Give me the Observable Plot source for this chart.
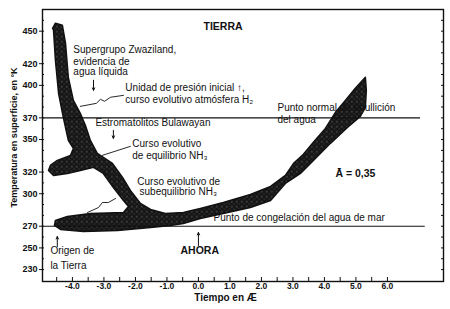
<!DOCTYPE html>
<html><head><meta charset="utf-8">
<script src="https://cdn.jsdelivr.net/npm/d3@7"></script>
<script src="https://cdn.jsdelivr.net/npm/@observablehq/plot@0.6"></script>
<style>body{margin:0;background:#fff} svg{display:block}</style>
</head><body><div id="chart"></div>
<script>
// ---- data ----
const yTickValues = [230, 250, 270, 300, 320, 350, 370, 400, 420, 450];
const xTickValues = [-4, -3, -2, -1, 0, 1, 2, 3, 4, 5, 6];
const xHalfTicks = [-4.5, -4, -3.5, -3, -2.5, -2, -1.5, -1, -0.5, 0, 0.5, 1, 1.5, 2, 2.5, 3, 3.5, 4, 4.5, 5, 5.5, 6];
const xDomain = [-4.95, 7.78];
const yDomain = [219, 470];

// outline of the evolutionary envelope (time in Æ, temperature in K)
const bandTime = [-4.63,-4.54,-4.32,-4.22,-4.13,-3.97,-3.75,-3.59,-3.43,-3.21,-2.73,-2.41,-2.16,-1.84,-1.52,-1.05,-0.48,0.06,0.79,1.65,2.29,2.76,3.02,3.30,3.65,4.03,4.35,4.67,4.98,5.30,5.33,5.30,5.14,4.73,4.19,3.65,3.24,2.76,2.29,1.65,0.79,0.06,-0.48,-0.89,-1.52,-2.57,-3.65,-4.38,-4.57,-4.54,-4.16,-3.43,-2.38,-2.22,-2.38,-2.70,-3.02,-3.33,-3.75,-4.16,-4.60,-4.76,-4.70,-4.48,-4.06,-3.97,-4.13,-4.29,-4.44,-4.54,-4.60];
const bandTemp = [452.7,457.4,455.5,438.9,407.4,386.2,374.2,363.1,349.2,337.2,328.0,315.0,303.0,291.0,285.5,281.8,282.7,286.4,291.9,299.3,306.7,316.9,328.0,335.4,347.4,360.3,375.1,386.2,397.3,407.4,395.4,379.7,371.4,361.2,346.5,330.7,318.7,309.5,293.8,287.3,281.8,277.1,272.5,270.7,268.8,266.0,265.1,267.0,270.7,275.3,279.0,281.8,282.7,288.2,293.8,305.8,318.7,324.3,321.5,318.7,316.9,321.5,326.1,330.7,335.4,341.8,349.2,370.5,392.7,423.2,450.9];

// reference temperatures (boiling / freezing of water)
const refTemp = [370, 270];
const refEnd = [7.05, 7.2];

// annotations
const noteText = ["Supergrupo Zwaziland,", "evidencia de", "agua líquida",
  "Unidad de presión inicial ↑,", "curso evolutivo atmósfera H₂",
  "Punto normal de ebullición", "del agua", "Estromatolitos Bulawayan",
  "Curso evolutivo", "de equilibrio NH₃", "Curso evolutivo de", "subequilibrio NH₃",
  "Punto de congelación del agua de mar", "Origen de", "la Tierra"];
const noteTime = [-3.97, -3.97, -3.97, -2.32, -2.32, 2.51, 2.51, -3.27, -2.10, -2.10, -1.94, -1.87, 0.48, -4.70, -4.70];
const noteTemp = [432.4, 422.2, 412.1, 397.3, 387.1, 379.7, 368.6, 365.9, 346.5, 335.4, 311.3, 302.1, 278.1, 247.6, 233.7];

const headText = ["TIERRA", "Ā = 0,35", "AHORA"];
const headTime = [0.16, 4.35, -0.57];
const headTemp = [454.6, 318.7, 247.6];

// arrows
const arrowTime = [-3.33, -2.70, -4.48, 0.0];
const arrowFrom = [404.7, 358.5, 251.3, 252.2];
const arrowTo = [395.4, 351.1, 260.5, 264.2];

// leader lines
const leaderId = ["a","a","a","a","a","a","b","b","c","c","c","c","c"];
const leaderTime = [-2.38,-2.79,-2.98,-3.11,-3.24,-3.75, -2.16,-3.05, -2.63,-2.86,-3.05,-3.17,-3.52];
const leaderTemp = [390.8,389.0,385.3,387.1,383.4,380.6, 343.7,335.4, 295.6,291.9,291.9,287.3,282.7];

const xLabel = "Tiempo en Æ";
const xLabelAt = [0.86];
const yLabel = "Temperatura en superficie, en °K";

// ---- tables ----
const band = bandTime.map((t, i) => ({t, k: bandTemp[i]}));
const refs = refTemp.map((k, i) => ({k, start: xDomain[0], end: refEnd[i]}));
const notes = noteText.map((s, i) => ({s, t: noteTime[i], k: noteTemp[i]}));
const heads = headText.map((s, i) => ({s, t: headTime[i], k: headTemp[i]}));
const arrows = arrowTime.map((t, i) => ({t, k1: arrowFrom[i], k2: arrowTo[i]}));
const leaders = leaderId.map((id, i) => ({id, t: leaderTime[i], k: leaderTemp[i]}));
const minorY = d3.range(230, 461, 10);
const blank = () => "";

const font = "'Liberation Sans', Arial, sans-serif";
const ink = "#111";

const svg = Plot.plot({
  width: 450, height: 309,
  marginTop: 9, marginBottom: 28, marginLeft: 42, marginRight: 7,
  x: {domain: xDomain},
  y: {domain: yDomain},
  style: {fontFamily: font, fontSize: "10px", color: ink, background: "#fff"},
  marks: [
    Plot.line(band, {x: "t", y: "k", curve: "linear-closed", fill: "url(#stip)", stroke: ink, strokeWidth: 1.5}),
    Plot.ruleY(refs, {y: "k", x1: "start", x2: "end", stroke: ink, strokeWidth: 1.1}),
    Plot.line(leaders, {x: "t", y: "k", z: "id", stroke: ink, strokeWidth: 0.9}),
    Plot.arrow(arrows, {x: "t", y1: "k1", y2: "k2", stroke: ink, strokeWidth: 1, headLength: 4, headAngle: 50}),
    Plot.text(notes, {x: "t", y: "k", text: "s", textAnchor: "start", fontSize: 10, fill: ink}),
    Plot.text(heads, {x: "t", y: "k", text: "s", textAnchor: "start", fontSize: 10.5, fontWeight: "bold", fill: ink}),
    Plot.frame({stroke: ink, strokeWidth: 1.4}),
    Plot.axisY({ticks: yTickValues, tickSize: 3, tickPadding: 2, fontSize: 9, fontWeight: "bold",
      label: yLabel, labelAnchor: "center", labelOffset: 32, labelArrow: false}),
    Plot.axisY({ticks: minorY, tickSize: -2, tickFormat: blank, label: null}),
    Plot.axisY({anchor: "right", ticks: minorY, tickSize: -3, tickFormat: blank, label: null}),
    Plot.axisX({ticks: xHalfTicks, tickSize: -4, tickFormat: blank, label: null}),
    Plot.axisX({ticks: xTickValues, tickSize: 0, tickPadding: 1, fontSize: 8.5, fontWeight: "bold",
      tickFormat: d => d.toFixed(1), label: null}),
    Plot.text(xLabelAt, {x: d => d, frameAnchor: "bottom", dy: 19, text: () => xLabel, fontSize: 10, fontWeight: "bold", fill: ink})
  ]
});

svg.insertAdjacentHTML("afterbegin",
  '<defs><pattern id="stip" width="5" height="5" patternUnits="userSpaceOnUse">' +
  '<rect width="5" height="5" fill="#161616"/>' +
  '<circle cx="1.3" cy="1.2" r="0.6" fill="#8a8a8a"/>' +
  '<circle cx="3.8" cy="3.6" r="0.5" fill="#666"/></pattern></defs>');

svg.querySelectorAll("g[aria-label='y-axis label'] text").forEach(t => {
  t.setAttribute("font-weight", "bold");
  t.setAttribute("dx", "8");
});

document.getElementById("chart").appendChild(svg);
</script>
</body></html>
